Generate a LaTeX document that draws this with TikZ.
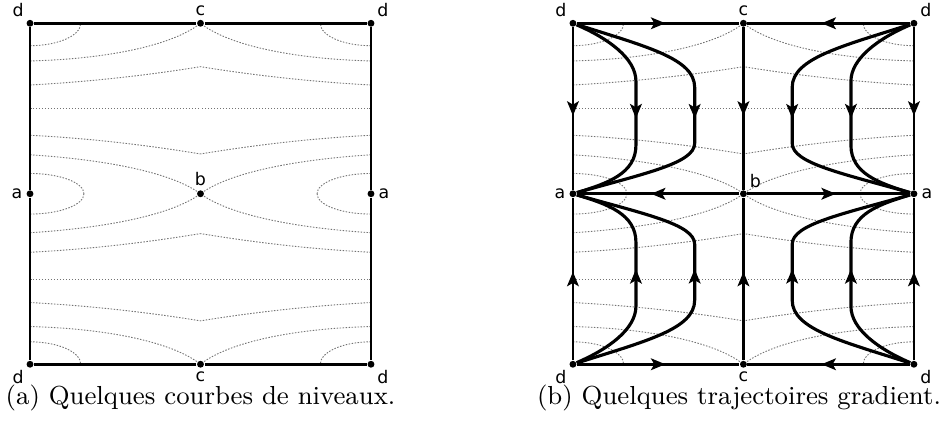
\documentclass[tikz,border=0pt]{standalone}
\usepackage{fontspec}
\newfontfamily\lblfont{DejaVu Sans}
\usepackage{tikz}
\usetikzlibrary{arrows.meta,decorations.markings}
\tikzset{
  dot/.style ={circle, fill=black, inner sep=0pt, minimum size=2.3pt},
  lbl/.style ={font=\lblfont\fontsize{5.8}{6}\selectfont, inner sep=1pt},
  lvl/.style ={draw=black!55, line width=0.3pt, dash pattern=on 0.5pt off 0.5pt},
  edge/.style={draw=black, line width=0.85pt},
  traj/.style={draw=black, line width=0.85pt, postaction={decorate},
               decoration={markings, mark=at position 0.5 with {\arrow[xshift=2.4pt]{Stealth[length=4.8pt,width=3.9pt,inset=1.1pt]}}}},
  capt/.style={anchor=base, font=\fontsize{8.7}{11}\selectfont},
}

\begin{document}
\begin{tikzpicture}
\useasboundingbox (-2.352,-2.771) rectangle (8.710,2.273);
% --- level curves (both panels, one quadrant mirrored four times) ---
\foreach \ox in {0,6.369}
  \foreach \sx in {1,-1}
    \foreach \sy in {1,-1} {
      \begin{scope}[shift={(\ox,0)}, xscale=\sx, yscale=\sy]
        \draw[lvl] (-2,1.737) arc[start angle=-90, end angle=0, x radius=0.595, y radius=0.263];
        \draw[lvl] (-2,1.558) .. controls (-1.179,1.578) and (-0.358,1.718) .. (0,2);
        \draw[lvl] (-2,1.276) .. controls (-1.179,1.320) and (-0.475,1.413) .. (0,1.491);
        \draw[lvl] (-2,1) -- (0,1);
        \draw[lvl] (-2,0.686) .. controls (-1.179,0.645) and (-0.475,0.545) .. (0,0.467);
        \draw[lvl] (-2,0.457) .. controls (-1.179,0.405) and (-0.358,0.264) .. (0,0);
        \draw[lvl] (-2,0.238) arc[start angle=90, end angle=0, x radius=0.633, y radius=0.238];
      \end{scope}
    }
% --- critical points ---
\foreach \p/\ox in {l/0, r/6.369} {
  \node[dot, label={[lbl]above left:d}]  (\p dtl) at (\ox-2,2)  {};
  \node[dot, label={[lbl]above:c}]       (\p ct)  at (\ox,2)    {};
  \node[dot, label={[lbl]above right:d}] (\p dtr) at (\ox+2,2)  {};
  \node[dot, label={[lbl]left:a}]        (\p al)  at (\ox-2,0)  {};
  \node[dot, label={[lbl]right:a}]       (\p ar)  at (\ox+2,0)  {};
  \node[dot, label={[lbl]below left:d}]  (\p dbl) at (\ox-2,-2) {};
  \node[dot, label={[lbl]below:c}]       (\p cb)  at (\ox,-2)   {};
  \node[dot, label={[lbl]below right:d}] (\p dbr) at (\ox+2,-2) {};
}
\node[dot, label={[lbl]above:b}]       (lb) at (0,0)     {};
\node[dot, label={[lbl]above right:b}] (rb) at (6.369,0) {};
% --- left panel: border only ---
\draw[edge] (ldtl) -- (lct) -- (ldtr) -- (lar) -- (ldbr) -- (lcb) -- (ldbl) -- (lal) -- (ldtl);
% --- right panel: separatrices ---
\foreach \s/\t in {rdtl/rct, rdtr/rct, rdbl/rcb, rdbr/rcb, rdtl/ral, rdbl/ral,
                   rdtr/rar, rdbr/rar, rct/rb, rcb/rb, rb/ral, rb/rar}
  {\draw[traj] (\s) -- (\t);}
% --- right panel: gradient trajectories d -> a ---
\foreach \sx/\sy/\s/\t in {1/1/rdtl/ral, 1/-1/rdbl/ral, -1/1/rdtr/rar, -1/-1/rdbr/rar} {
  \begin{scope}[shift={(6.369,0)}, xscale=\sx, yscale=\sy]
    \draw[traj, line width=1.05pt] (\s) .. controls (-1.589,1.824) and (-1.261,1.589) .. (-1.261,1.320)
      -- (-1.261,0.569) .. controls (-1.261,0.240) and (-1.589,0.123) .. (\t);
    \draw[traj, line width=1.05pt] (\s) .. controls (-1.155,1.730) and (-0.572,1.589) .. (-0.572,1.249)
      -- (-0.572,0.592) .. controls (-0.572,0.358) and (-1.155,0.240) .. (\t);
  \end{scope}
}
% --- captions ---
\node[capt] (capa) at (0,-2.477)     {(a) Quelques courbes de niveaux.};
\node[capt] (capb) at (6.317,-2.477) {(b) Quelques trajectoires gradient.};
\end{tikzpicture}
\end{document}
